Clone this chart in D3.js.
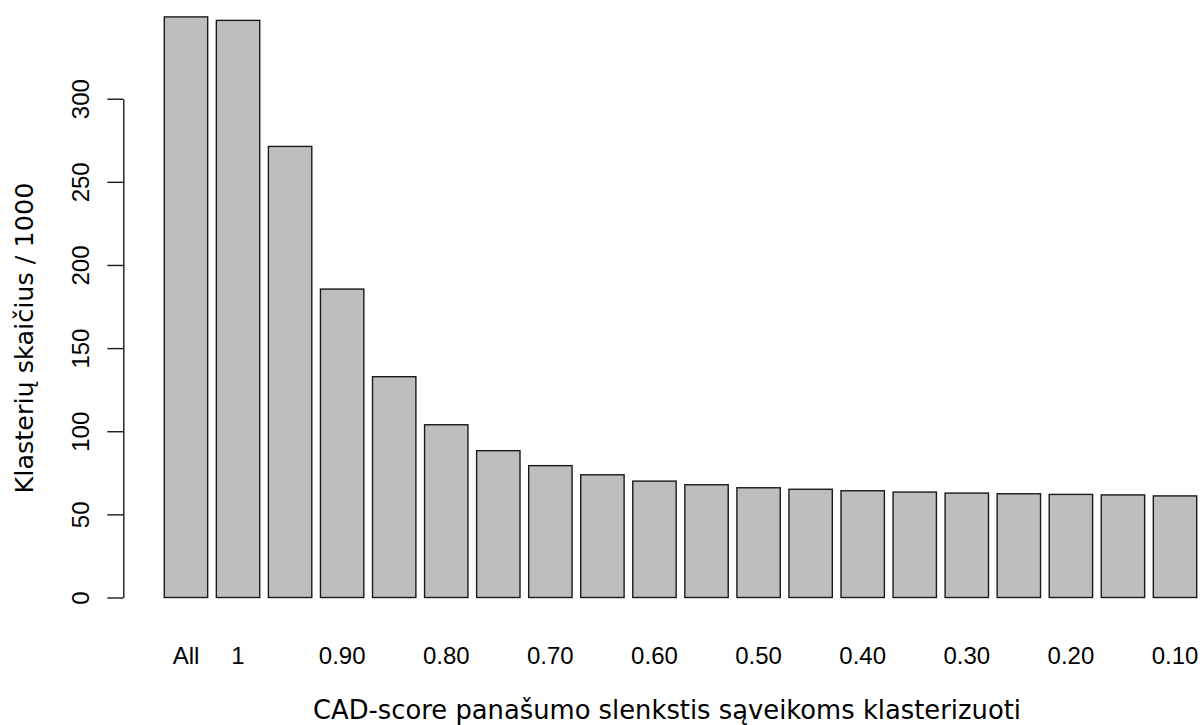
<!DOCTYPE html>
<html>
<head>
<meta charset="utf-8">
<script src="https://cdn.jsdelivr.net/npm/d3@7"></script>
<style>
  body { margin: 0; background: #fff; }
  svg { display: block; }
</style>
</head>
<body>
<div id="chart"></div>
<script>
// Similarity thresholds (bars) and the labels printed under them
const thresholds = ["All", "1", "0.95", "0.90", "0.85", "0.80", "0.75", "0.70", "0.65", "0.60",
                    "0.55", "0.50", "0.45", "0.40", "0.35", "0.30", "0.25", "0.20", "0.15", "0.10"];
const shownLabels = ["All", "1", "", "0.90", "", "0.80", "", "0.70", "", "0.60",
                     "", "0.50", "", "0.40", "", "0.30", "", "0.20", "", "0.10"];
// Cluster counts / 1000
const clusterCounts = [349.2, 347.1, 271.3, 185.5, 132.8, 103.9, 88.3, 79.3, 73.8, 70.0,
                       67.8, 66.0, 65.1, 64.2, 63.4, 62.8, 62.4, 62.0, 61.7, 61.1];
const yTicks = [0, 50, 100, 150, 200, 250, 300];

const width = 1202, height = 725;

const svg = d3.select("#chart").append("svg")
    .attr("width", width)
    .attr("height", height);

// scales
const x = d3.scaleBand()
    .domain(thresholds)
    .range([164.3, 1196.7])
    .paddingInner(1 / 6)
    .paddingOuter(0);

const y = d3.scaleLinear()
    .domain([0, 300])
    .range([597.5, 98.7]);

// bars
svg.selectAll(".bar")
    .data(clusterCounts)
    .enter().append("rect")
    .attr("class", "bar")
    .attr("x", (d, i) => x(thresholds[i]))
    .attr("y", d => y(d))
    .attr("width", x.bandwidth())
    .attr("height", d => y(0) - y(d))
    .style("fill", "#bebebe")
    .style("stroke", "#1a1a1a")
    .style("stroke-width", 1.4);

// y axis
const yAxis = d3.axisLeft(y)
    .tickValues(yTicks)
    .tickSize(16)
    .tickSizeOuter(0);

const gy = svg.append("g")
    .attr("transform", "translate(123.3,0)")
    .call(yAxis);

gy.selectAll("path, line")
    .style("stroke", "#1a1a1a")
    .style("stroke-width", 1.4);

gy.selectAll("text")
    .attr("transform", "rotate(-90)")
    .attr("x", 0)
    .attr("y", -34)
    .attr("dy", 0)
    .attr("text-anchor", "middle")
    .style("font-family", "'Liberation Sans', Arial, sans-serif")
    .style("font-size", "24px")
    .style("fill", "#000");

// x labels (no axis line, like R's barplot)
svg.selectAll(".xlab")
    .data(shownLabels)
    .enter().append("text")
    .attr("class", "xlab")
    .attr("x", (d, i) => x(thresholds[i]) + x.bandwidth() / 2)
    .attr("y", 663.5)
    .attr("text-anchor", "middle")
    .style("font-family", "'Liberation Sans', Arial, sans-serif")
    .style("font-size", "24px")
    .text(d => d);

// axis titles
svg.append("text")
    .attr("x", 667)
    .attr("y", 719)
    .attr("text-anchor", "middle")
    .style("font-family", "'DejaVu Sans', sans-serif")
    .style("font-size", "25.8px")
    .text("CAD-score panašumo slenkstis sąveikoms klasterizuoti");

svg.append("text")
    .attr("transform", "rotate(-90)")
    .attr("x", -338)
    .attr("y", 33)
    .attr("text-anchor", "middle")
    .style("font-family", "'DejaVu Sans', sans-serif")
    .style("font-size", "25.5px")
    .text("Klasterių skaičius / 1000");
</script>
</body>
</html>
